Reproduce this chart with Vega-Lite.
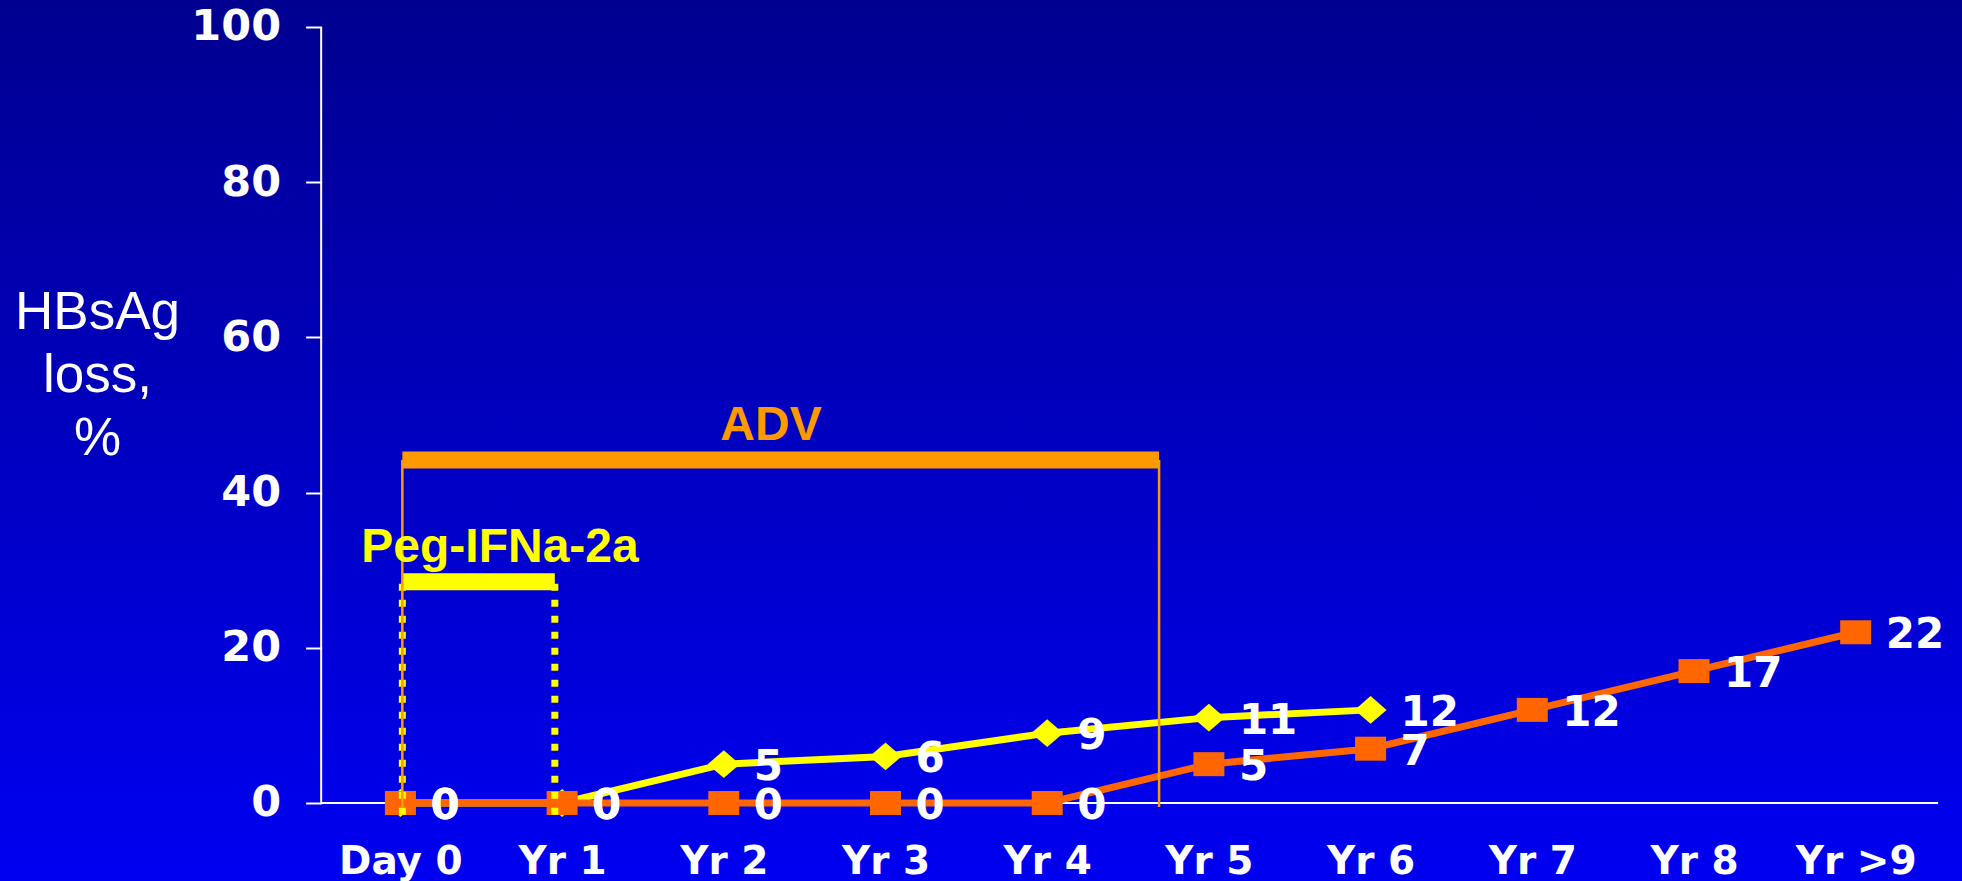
{
  "$schema": "https://vega.github.io/schema/vega-lite/v6.json",
  "width": 1962,
  "height": 881,
  "autosize": {"type": "none"},
  "padding": 0,
  "background": "#0000C0",
  "view": {
    "stroke": null,
    "fill": {
      "gradient": "linear",
      "x1": 0, "y1": 0, "x2": 0, "y2": 1,
      "stops": [
        {"offset": 0, "color": "#000090"},
        {"offset": 1, "color": "#0000F2"}
      ]
    }
  },
  "datasets": {
    "series": [
      {"t": 0, "period": "Day 0", "arm": "Peg-IFNa-2a + ADV", "loss": 0},
      {"t": 1, "period": "Yr 1", "arm": "Peg-IFNa-2a + ADV", "loss": 0},
      {"t": 2, "period": "Yr 2", "arm": "Peg-IFNa-2a + ADV", "loss": 5},
      {"t": 3, "period": "Yr 3", "arm": "Peg-IFNa-2a + ADV", "loss": 6},
      {"t": 4, "period": "Yr 4", "arm": "Peg-IFNa-2a + ADV", "loss": 9},
      {"t": 5, "period": "Yr 5", "arm": "Peg-IFNa-2a + ADV", "loss": 11},
      {"t": 6, "period": "Yr 6", "arm": "Peg-IFNa-2a + ADV", "loss": 12},
      {"t": 0, "period": "Day 0", "arm": "ADV", "loss": 0},
      {"t": 1, "period": "Yr 1", "arm": "ADV", "loss": 0},
      {"t": 2, "period": "Yr 2", "arm": "ADV", "loss": 0},
      {"t": 3, "period": "Yr 3", "arm": "ADV", "loss": 0},
      {"t": 4, "period": "Yr 4", "arm": "ADV", "loss": 0},
      {"t": 5, "period": "Yr 5", "arm": "ADV", "loss": 5},
      {"t": 6, "period": "Yr 6", "arm": "ADV", "loss": 7},
      {"t": 7, "period": "Yr 7", "arm": "ADV", "loss": 12},
      {"t": 8, "period": "Yr 8", "arm": "ADV", "loss": 17},
      {"t": 9, "period": "Yr >9", "arm": "ADV", "loss": 22}
    ],
    "bars": [
      {"drug": "ADV", "start": 0.012, "end": 4.692, "level": 44.2, "floor": -0.5},
      {"drug": "Peg-IFNa-2a", "start": 0.012, "end": 0.955, "level": 28.5, "floor": -1.5}
    ],
    "notes": [
      {"drug": "ADV", "text": "ADV", "t": 2.292, "v": 46.8},
      {"drug": "Peg-IFNa-2a", "text": "Peg-IFNa-2a", "t": 0.616, "v": 31.1}
    ],
    "frame": [
      {"line": "y axis", "t0": -0.49, "t1": -0.49, "v0": 0, "v1": 100},
      {"line": "x axis", "t0": -0.49, "t1": 9.51, "v0": 0, "v1": 0}
    ]
  },
  "layer": [
    {
      "data": {"name": "frame"},
      "mark": {"type": "rule", "color": "white", "strokeWidth": 2},
      "encoding": {
        "x": {
          "field": "t0", "type": "quantitative",
          "scale": {"domain": [-2.4762, 9.6574], "nice": false, "zero": false},
          "axis": {
            "orient": "bottom", "offset": -78, "values": [0, 1, 2, 3, 4, 5, 6, 7, 8, 9],
            "domain": false, "grid": false, "ticks": false, "tickSize": 0,
            "labelExpr": "['Day 0','Yr 1','Yr 2','Yr 3','Yr 4','Yr 5','Yr 6','Yr 7','Yr  8','Yr >9'][datum.value]",
            "labelFont": "DejaVu Sans", "labelFontWeight": "bold", "labelFontSize": 39,
            "labelColor": "white", "labelBaseline": "alphabetic", "labelPadding": 70,
            "labelOverlap": false, "labelFlush": false, "title": ""
          }
        },
        "x2": {"field": "t1"},
        "y": {
          "field": "v0", "type": "quantitative",
          "scale": {"domain": [-10.052, 103.479], "nice": false, "zero": false},
          "axis": {
            "orient": "left", "offset": -321.6, "values": [0, 20, 40, 60, 80, 100],
            "domain": false, "grid": false, "ticks": true, "tickSize": 16, "tickWidth": 2, "tickColor": "white",
            "labelFont": "DejaVu Sans", "labelFontWeight": "bold", "labelFontSize": 43,
            "labelColor": "white", "labelPadding": 25, "labelOverlap": false, "labelFlush": false,
            "title": ["HBsAg", "loss,", "%"],
            "titleAngle": 0, "titleX": -224.6, "titleY": 328,
            "titleAlign": "center", "titleBaseline": "alphabetic",
            "titleFont": "Liberation Sans", "titleFontWeight": "normal", "titleFontSize": 53,
            "titleLineHeight": 63, "titleColor": "white"
          }
        },
        "y2": {"field": "v1"}
      }
    },
    {
      "data": {"name": "series"},
      "transform": [{"filter": "datum.arm === 'Peg-IFNa-2a + ADV'"}],
      "mark": {
        "type": "line", "color": "#FFFF00", "strokeWidth": 7,
        "point": {"filled": true, "color": "#FFFF00", "opacity": 1, "size": 1024, "shape": "M0,-0.87L1,0L0,0.87L-1,0Z"}
      },
      "encoding": {
        "x": {"field": "t", "type": "quantitative", "scale": {"domain": [-2.4762, 9.6574], "nice": false, "zero": false}},
        "y": {"field": "loss", "type": "quantitative", "scale": {"domain": [-10.052, 103.479], "nice": false, "zero": false}}
      }
    },
    {
      "data": {"name": "series"},
      "transform": [{"filter": "datum.arm === 'ADV'"}],
      "mark": {
        "type": "line", "color": "#FF6600", "strokeWidth": 7,
        "point": {"filled": true, "color": "#FF6600", "opacity": 1, "size": 961, "shape": "M-1,-0.774L1,-0.774L1,0.774L-1,0.774Z"}
      },
      "encoding": {
        "x": {"field": "t", "type": "quantitative", "scale": {"domain": [-2.4762, 9.6574], "nice": false, "zero": false}},
        "y": {"field": "loss", "type": "quantitative", "scale": {"domain": [-10.052, 103.479], "nice": false, "zero": false}}
      }
    },
    {
      "data": {"name": "series"},
      "mark": {"type": "text", "color": "white", "font": "DejaVu Sans", "fontWeight": "bold", "fontSize": 42, "align": "left", "baseline": "middle", "dx": 30, "dy": 3},
      "encoding": {
        "x": {"field": "t", "type": "quantitative", "scale": {"domain": [-2.4762, 9.6574], "nice": false, "zero": false}},
        "y": {"field": "loss", "type": "quantitative", "scale": {"domain": [-10.052, 103.479], "nice": false, "zero": false}},
        "text": {"field": "loss", "type": "quantitative"}
      }
    },
    {
      "data": {"name": "bars"},
      "transform": [{"filter": "datum.drug === 'Peg-IFNa-2a'"}],
      "mark": {"type": "rule", "color": "#FFFF00", "strokeWidth": 17},
      "encoding": {
        "x": {"field": "start", "type": "quantitative", "scale": {"domain": [-2.4762, 9.6574], "nice": false, "zero": false}},
        "x2": {"field": "end"},
        "y": {"field": "level", "type": "quantitative", "scale": {"domain": [-10.052, 103.479], "nice": false, "zero": false}}
      }
    },
    {
      "data": {"name": "bars"},
      "transform": [{"filter": "datum.drug === 'Peg-IFNa-2a'"}],
      "mark": {"type": "rule", "color": "#FFFF00", "strokeWidth": 7, "strokeDash": [7, 9]},
      "encoding": {
        "x": {"field": "start", "type": "quantitative", "scale": {"domain": [-2.4762, 9.6574], "nice": false, "zero": false}},
        "y": {"field": "floor", "type": "quantitative", "scale": {"domain": [-10.052, 103.479], "nice": false, "zero": false}},
        "y2": {"field": "level"}
      }
    },
    {
      "data": {"name": "bars"},
      "transform": [{"filter": "datum.drug === 'Peg-IFNa-2a'"}],
      "mark": {"type": "rule", "color": "#FFFF00", "strokeWidth": 7, "strokeDash": [7, 9]},
      "encoding": {
        "x": {"field": "end", "type": "quantitative", "scale": {"domain": [-2.4762, 9.6574], "nice": false, "zero": false}},
        "y": {"field": "floor", "type": "quantitative", "scale": {"domain": [-10.052, 103.479], "nice": false, "zero": false}},
        "y2": {"field": "level"}
      }
    },
    {
      "data": {"name": "bars"},
      "transform": [{"filter": "datum.drug === 'ADV'"}],
      "mark": {"type": "rule", "color": "#FF9900", "strokeWidth": 17},
      "encoding": {
        "x": {"field": "start", "type": "quantitative", "scale": {"domain": [-2.4762, 9.6574], "nice": false, "zero": false}},
        "x2": {"field": "end"},
        "y": {"field": "level", "type": "quantitative", "scale": {"domain": [-10.052, 103.479], "nice": false, "zero": false}}
      }
    },
    {
      "data": {"name": "bars"},
      "transform": [{"filter": "datum.drug === 'ADV'"}],
      "mark": {"type": "rule", "color": "#FF9900", "strokeWidth": 2.5},
      "encoding": {
        "x": {"field": "start", "type": "quantitative", "scale": {"domain": [-2.4762, 9.6574], "nice": false, "zero": false}},
        "y": {"field": "floor", "type": "quantitative", "scale": {"domain": [-10.052, 103.479], "nice": false, "zero": false}},
        "y2": {"field": "level"}
      }
    },
    {
      "data": {"name": "bars"},
      "transform": [{"filter": "datum.drug === 'ADV'"}],
      "mark": {"type": "rule", "color": "#FF9900", "strokeWidth": 2.5},
      "encoding": {
        "x": {"field": "end", "type": "quantitative", "scale": {"domain": [-2.4762, 9.6574], "nice": false, "zero": false}},
        "y": {"field": "floor", "type": "quantitative", "scale": {"domain": [-10.052, 103.479], "nice": false, "zero": false}},
        "y2": {"field": "level"}
      }
    },
    {
      "data": {"name": "notes"},
      "mark": {"type": "text", "font": "Liberation Sans", "fontWeight": "bold", "fontSize": 48, "align": "center", "baseline": "alphabetic"},
      "encoding": {
        "x": {"field": "t", "type": "quantitative", "scale": {"domain": [-2.4762, 9.6574], "nice": false, "zero": false}},
        "y": {"field": "v", "type": "quantitative", "scale": {"domain": [-10.052, 103.479], "nice": false, "zero": false}},
        "text": {"field": "text", "type": "nominal"},
        "color": {"field": "drug", "type": "nominal", "scale": {"domain": ["ADV", "Peg-IFNa-2a"], "range": ["#FF9900", "#FFFF00"]}, "legend": null}
      }
    }
  ]
}
